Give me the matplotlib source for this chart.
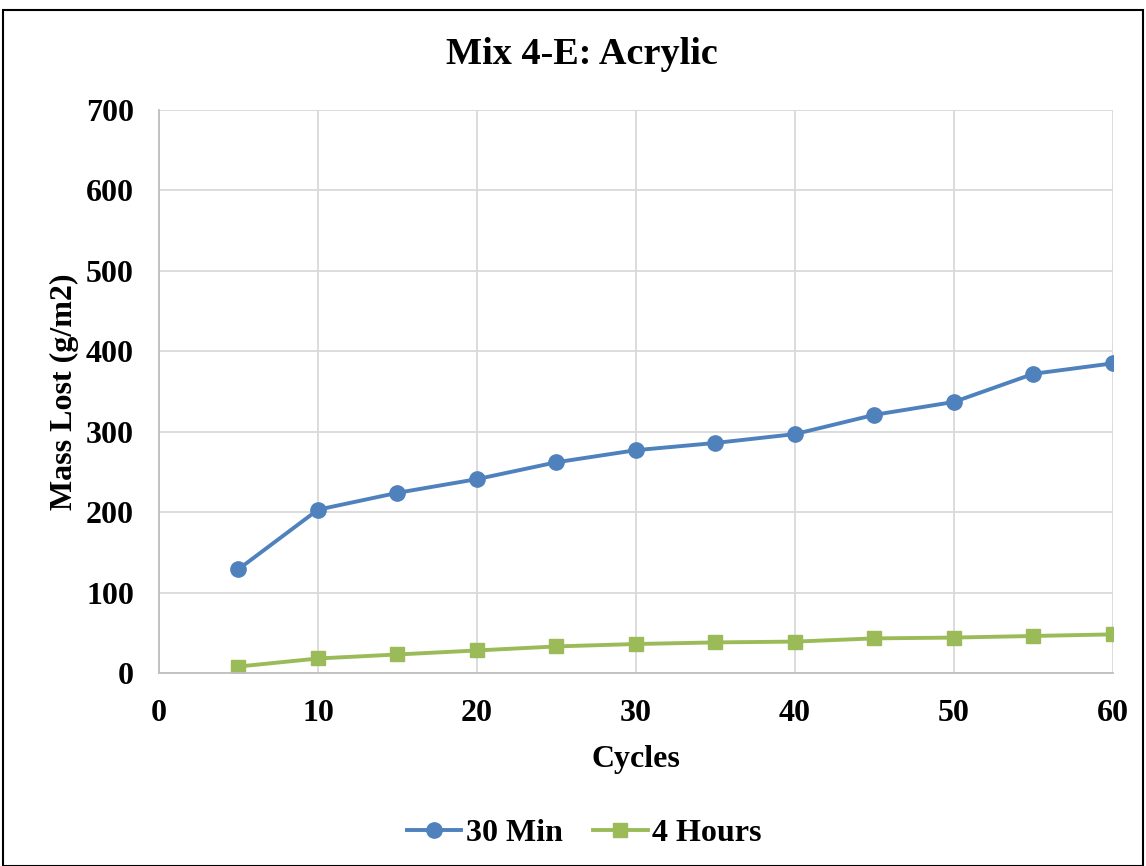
import matplotlib
matplotlib.use("Agg")
import matplotlib.pyplot as plt
from matplotlib.patches import Rectangle

cycles = [5, 10, 15, 20, 25, 30, 35, 40, 45, 50, 55, 60]
min30 = [129, 203, 224, 241, 262, 277, 286, 297, 321, 337, 372, 385]
hours4 = [8, 18, 23, 28, 33, 36, 38, 39, 43, 44, 46, 48]
xticks = [0, 10, 20, 30, 40, 50, 60]
yticks = [0, 100, 200, 300, 400, 500, 600, 700]

plt.rcParams['font.family'] = ['Liberation Serif', 'DejaVu Serif']
plt.rcParams['font.weight'] = 'bold'

fig = plt.figure(figsize=(11.46, 8.66), dpi=100)
ax = fig.add_axes([0.1387, 0.2229, 0.8325, 0.6501])

ax.plot(cycles, min30, color='#4F81BD', lw=2.8, marker='o', ms=11, label='30 Min')
ax.plot(cycles, hours4, color='#9BBB59', lw=2.8, marker='s', ms=10, label='4 Hours')

ax.set_xlim(0, 60)
ax.set_ylim(0, 700)
ax.set_xticks(xticks)
ax.set_yticks(yticks)
ax.grid(True, color='#D9D9D9', lw=1.3)
ax.set_axisbelow(True)
for s in ['top', 'right']:
    ax.spines[s].set_visible(False)
for s in ['left', 'bottom']:
    ax.spines[s].set_color('#BFBFBF')
    ax.spines[s].set_linewidth(1.3)
ax.tick_params(length=0, labelsize=23)
ax.tick_params(axis='y', pad=18)
ax.tick_params(axis='x', pad=19)
for lbl in ax.get_xticklabels() + ax.get_yticklabels():
    lbl.set_fontweight('bold')

ax.set_xlabel('Cycles', fontsize=23, fontweight='bold', labelpad=12)
ax.set_ylabel('Mass Lost (g/m2)', fontsize=23, fontweight='bold', labelpad=5)
fig.text(0.508, 0.937, 'Mix 4-E: Acrylic', ha='center', va='center', fontsize=27.5, fontweight='bold')

leg = fig.legend(loc='center', bbox_to_anchor=(0.51, 0.038), ncol=2, frameon=False,
                 prop={'size': 23, 'weight': 'bold'}, handlelength=1.7, columnspacing=0.95,
                 handletextpad=0.15)

fig.patches.append(Rectangle((0.003, 0.0), 0.994, 0.988, transform=fig.transFigure,
                             fill=False, edgecolor='black', lw=1.5))

fig.savefig('out.png', dpi=100)
